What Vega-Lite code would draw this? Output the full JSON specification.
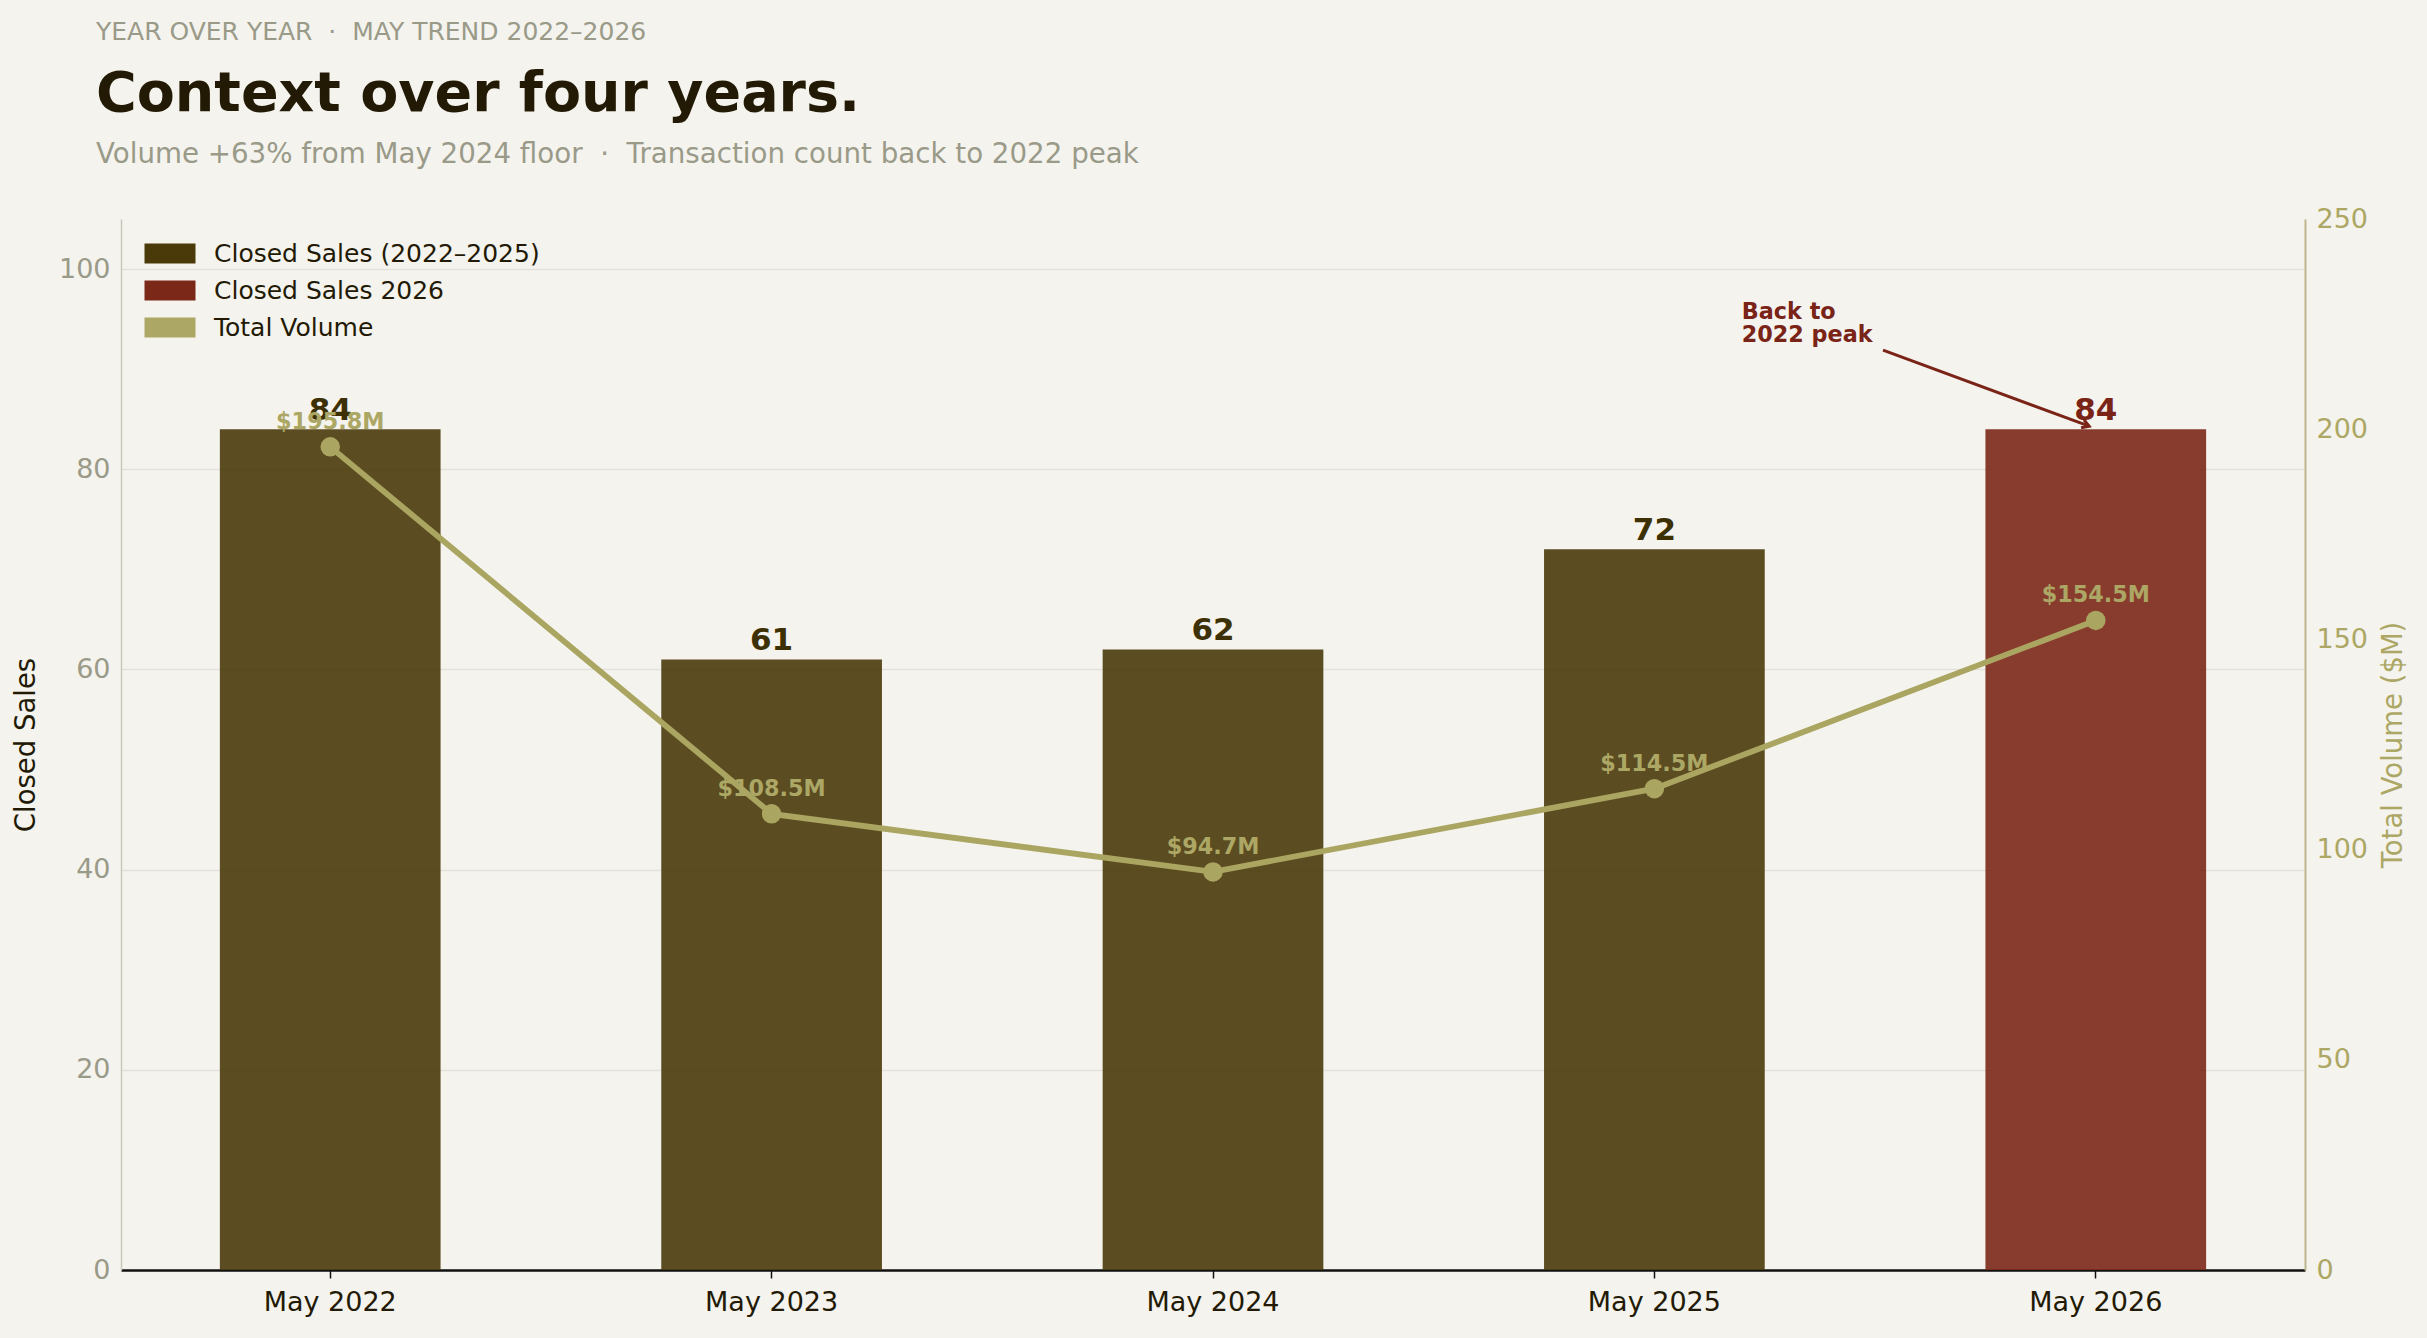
{
  "$schema": "https://vega.github.io/schema/vega-lite/v6.json",
  "background": "#f4f3ee",
  "padding": {"left": 12, "top": 19, "right": 30, "bottom": 24},
  "config": {"view": {"stroke": null}, "font": "DejaVu Sans"},
  "title": {
    "text": "YEAR OVER YEAR \u00a0·\u00a0 MAY TREND 2022–2026",
    "anchor": "start", "frame": "group", "dx": -25,
    "fontSize": 25, "fontWeight": "normal", "color": "#9a9a88", "offset": 22
  },
  "datasets": {
    "sales": [
      {"month": "May 2022", "closed": 84, "volume": 195.8, "series": "Closed Sales (2022–2025)", "vlabel": "$195.8M"},
      {"month": "May 2023", "closed": 61, "volume": 108.5, "series": "Closed Sales (2022–2025)", "vlabel": "$108.5M"},
      {"month": "May 2024", "closed": 62, "volume": 94.7, "series": "Closed Sales (2022–2025)", "vlabel": "$94.7M"},
      {"month": "May 2025", "closed": 72, "volume": 114.5, "series": "Closed Sales (2022–2025)", "vlabel": "$114.5M"},
      {"month": "May 2026", "closed": 84, "volume": 154.5, "series": "Closed Sales 2026", "vlabel": "$154.5M"}
    ],
    "annot": [
      {"x": 3.518, "y": 91.9, "x2": 3.985, "y2": 84.3, "tx": 3.198, "ty": 96.8, "label": "Back to\n2022 peak"}
    ]
  },
  "vconcat": [
    {
      "width": 2184,
      "height": 1051,
      "title": {
        "text": "Context over four years.",
        "subtitle": "Volume +63% from May 2024 floor \u00a0·\u00a0 Transaction count back to 2022 peak",
        "anchor": "start", "frame": "group", "dx": -25,
        "fontSize": 55.5, "fontWeight": "bold", "color": "#231a05",
        "subtitleFontSize": 27.7, "subtitleColor": "#9a9a88", "subtitlePadding": 19,
        "offset": 36
      },
      "resolve": {"scale": {"x": "independent", "y": "independent", "color": "independent"}},
      "layer": [
        {
          "data": {"name": "sales"},
          "encoding": {
            "x": {
              "field": "month", "type": "ordinal", "sort": null,
              "scale": {"type": "band", "paddingInner": 0.5, "paddingOuter": 0.224},
              "axis": {
                "title": null, "labelAngle": 0, "labelFontSize": 27, "labelColor": "#231a05",
                "domainColor": "#111111", "domainWidth": 2.5, "tickColor": "#111111",
                "tickWidth": 1.5, "tickSize": 8, "labelPadding": 11, "grid": false
              }
            },
            "y": {
              "field": "closed", "type": "quantitative",
              "scale": {"domain": [0, 105], "nice": false},
              "axis": {
                "title": "Closed Sales", "titleFontSize": 27.5, "titleFontWeight": "normal",
                "titleColor": "#231a05", "titlePadding": 18,
                "values": [0, 20, 40, 60, 80, 100],
                "labelFontSize": 27, "labelColor": "#9a9a88", "labelPadding": 11,
                "tickSize": 0, "domainColor": "#c9c8bb", "domainWidth": 1.5,
                "grid": true, "gridColor": "#e3e1da", "gridWidth": 1.5
              }
            }
          },
          "layer": [
            {
              "mark": {"type": "bar", "opacity": 0.9},
              "encoding": {
                "color": {
                  "field": "series", "type": "nominal",
                  "scale": {
                    "domain": ["Closed Sales (2022–2025)", "Closed Sales 2026", "Total Volume"],
                    "range": ["#4a3a0a", "#7c2818", "#aca764"]
                  },
                  "legend": {
                    "title": null, "orient": "none", "legendX": 21, "legendY": 22,
                    "symbolType": "M-1,-1H4.1V1H-1Z", "symbolSize": 400,
                    "symbolOpacity": 1, "symbolStrokeWidth": 0,
                    "labelFontSize": 25, "labelColor": "#231a05", "labelOffset": 47,
                    "labelLimit": 600, "rowPadding": 11, "labelFont": "DejaVu Sans"
                  }
                }
              }
            },
            {
              "mark": {"type": "text", "baseline": "alphabetic", "dy": -9, "fontSize": 31, "fontWeight": "bold"},
              "encoding": {
                "text": {"field": "closed", "type": "quantitative"},
                "color": {
                  "condition": {"test": "datum.series === 'Closed Sales 2026'", "value": "#7a2418"},
                  "value": "#3d3005"
                }
              }
            }
          ]
        },
        {
          "data": {"name": "sales"},
          "encoding": {
            "x": {
              "field": "month", "type": "ordinal", "sort": null,
              "scale": {"type": "band", "paddingInner": 0.5, "paddingOuter": 0.224},
              "axis": null
            },
            "y": {
              "field": "volume", "type": "quantitative",
              "scale": {"domain": [0, 250], "nice": false},
              "axis": {
                "orient": "right", "title": "Total Volume ($M)", "titleAngle": 270,
                "titleFontSize": 27.5, "titleFontWeight": "normal", "titleColor": "#aca764",
                "titlePadding": 40, "values": [0, 50, 100, 150, 200, 250],
                "labelFontSize": 27, "labelColor": "#aca764", "labelPadding": 11,
                "tickSize": 0, "domainColor": "#bdb68e", "domainWidth": 2, "grid": false
              }
            }
          },
          "layer": [
            {"mark": {"type": "line", "color": "#aaa560", "strokeWidth": 5.8}},
            {"mark": {"type": "point", "filled": true, "color": "#aaa560", "opacity": 1, "size": 380}},
            {
              "mark": {"type": "text", "baseline": "alphabetic", "dy": -18, "fontSize": 22.3, "fontWeight": "bold", "color": "#aca764"},
              "encoding": {"text": {"field": "vlabel", "type": "nominal"}}
            }
          ]
        },
        {
          "data": {"name": "annot"},
          "layer": [
            {
              "mark": {"type": "rule", "color": "#7a2418", "strokeWidth": 3},
              "encoding": {
                "x": {"field": "x", "type": "quantitative", "scale": {"domain": [-0.474, 4.474], "nice": false, "zero": false}, "axis": null},
                "y": {"field": "y", "type": "quantitative", "scale": {"domain": [0, 105], "nice": false}, "axis": null},
                "x2": {"field": "x2"},
                "y2": {"field": "y2"}
              }
            },
            {
              "mark": {"type": "point", "shape": "M-1,-0.6L0,0L-1,0.6", "filled": false, "color": "#7a2418", "strokeWidth": 3, "size": 200, "angle": 20, "opacity": 1},
              "encoding": {
                "x": {"field": "x2", "type": "quantitative", "scale": {"domain": [-0.474, 4.474], "nice": false, "zero": false}, "axis": null},
                "y": {"field": "y2", "type": "quantitative", "scale": {"domain": [0, 105], "nice": false}, "axis": null}
              }
            },
            {
              "mark": {"type": "text", "align": "left", "baseline": "top", "lineBreak": "\n", "lineHeight": 23, "fontSize": 22.3, "fontWeight": "bold", "color": "#7a2418"},
              "encoding": {
                "x": {"field": "tx", "type": "quantitative", "scale": {"domain": [-0.474, 4.474], "nice": false, "zero": false}, "axis": null},
                "y": {"field": "ty", "type": "quantitative", "scale": {"domain": [0, 105], "nice": false}, "axis": null},
                "text": {"field": "label", "type": "nominal"}
              }
            }
          ]
        }
      ]
    }
  ]
}
